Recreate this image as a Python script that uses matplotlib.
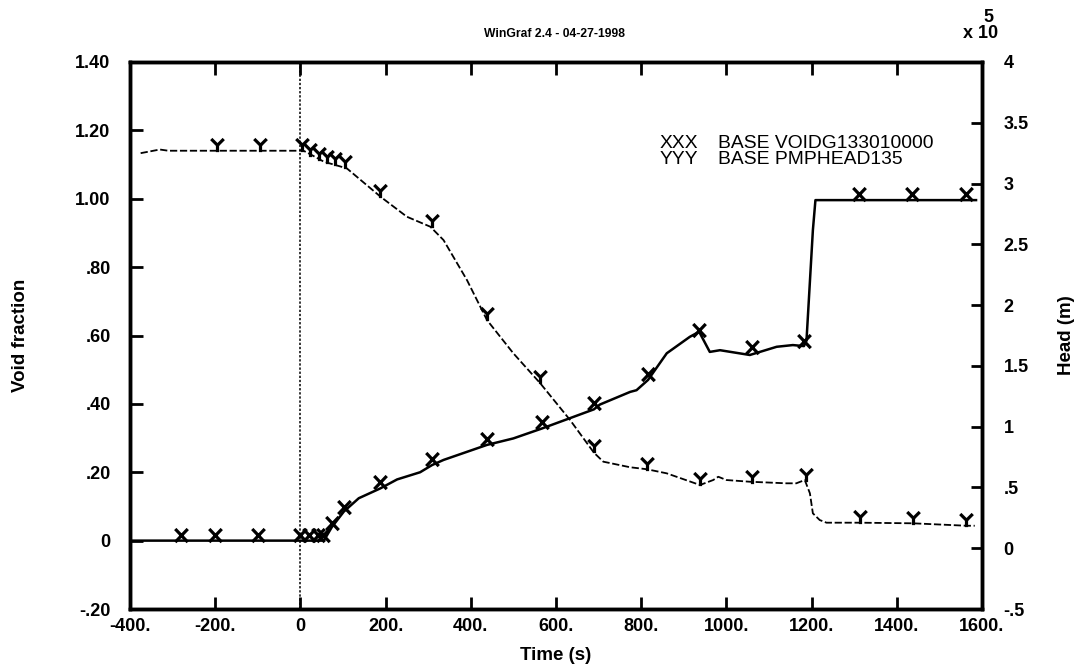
import numpy as np
import matplotlib
matplotlib.use("Agg")
import matplotlib.pyplot as plt
from matplotlib.path import Path

plt.rcParams['font.family'] = ['Liberation Sans', 'DejaVu Sans']

# ---------------- data ----------------
# Void fraction (left axis), series "XXX"
void_t = [-400, -280, -200, -100, 0, 21, 41, 55, 74, 102, 137, 188, 227, 281, 309,
          336, 438, 500, 567, 689, 703, 774, 789, 816, 860, 914, 936, 961, 985,
          1055, 1118, 1156, 1182, 1188, 1203, 1209, 1311, 1436, 1562, 1586]
void_v = [0, 0, 0, 0, 0, 0, 0, 0, 0.04, 0.085, 0.124, 0.153, 0.179, 0.200, 0.221,
          0.236, 0.280, 0.299, 0.328, 0.384, 0.398, 0.435, 0.44, 0.47, 0.548, 0.596,
          0.611, 0.552, 0.557, 0.543, 0.567, 0.572, 0.569, 0.585, 0.908, 0.996,
          0.996, 0.996, 0.996, 0.996]
void_mark_t = [-280, -200, -100, 0, 21, 41, 53, 74, 102, 187, 309, 437, 566, 689,
               816, 936, 1061, 1182, 1311, 1436, 1562]
void_mark_v = [0, 0, 0, 0, 0, 0, 0, 0.035, 0.08, 0.153, 0.221, 0.280, 0.328, 0.384,
               0.47, 0.60, 0.55, 0.565, 0.996, 0.996, 0.996]

# Pump head (right axis, units of 1e5 m), series "YYY"
head_t = [-375, -330, -310, 0, 4, 27, 55, 109, 188, 250, 305, 336, 391, 438, 500,
          563, 633, 689, 711, 774, 813, 860, 938, 969, 981, 1000, 1055, 1141, 1164,
          1184, 1196, 1203, 1219, 1235, 1313, 1438, 1563, 1583]
head_v = [3.25, 3.28, 3.27, 3.27, 3.276, 3.234, 3.18, 3.125, 2.892, 2.727, 2.645,
          2.535, 2.206, 1.877, 1.603, 1.357, 1.055, 0.786, 0.712, 0.666, 0.65, 0.616,
          0.52, 0.561, 0.588, 0.561, 0.547, 0.534, 0.534, 0.561, 0.452, 0.287, 0.232,
          0.21, 0.21, 0.205, 0.185, 0.185]
head_mark_t = [-195, -94, 4, 23, 43, 63, 82, 105, 187, 310, 437, 563, 689, 813, 938,
               1061, 1187, 1313, 1438, 1563]
head_mark_v = [3.27, 3.27, 3.27, 3.23, 3.19, 3.17, 3.15, 3.13, 2.89, 2.64, 1.88, 1.36,
               0.79, 0.64, 0.52, 0.54, 0.55, 0.205, 0.20, 0.18]

x_ticks = [-400, -200, 0, 200, 400, 600, 800, 1000, 1200, 1400, 1600]
x_labels = ['-400.', '-200.', '0', '200.', '400.', '600.', '800.', '1000.', '1200.',
            '1400.', '1600.']
yl_ticks = [-0.2, 0, 0.2, 0.4, 0.6, 0.8, 1.0, 1.2, 1.4]
yl_labels = ['-.20', '0', '.20', '.40', '.60', '.80', '1.00', '1.20', '1.40']
yr_ticks = [-0.5, 0, 0.5, 1, 1.5, 2, 2.5, 3, 3.5, 4]
yr_labels = ['-.5', '0', '.5', '1', '1.5', '2', '2.5', '3', '3.5', '4']

title = 'WinGraf 2.4 - 04-27-1998'
leg_codes = ['XXX', 'YYY']
leg_names = ['BASE VOIDG133010000', 'BASE PMPHEAD135']

# ---------------- figure ----------------
W, H = 1085, 672
fig = plt.figure(figsize=(W / 100, H / 100), dpi=100)
ax = fig.add_axes([130 / W, 1 - 609 / H, 852 / W, 547 / H])
ax2 = ax.twinx()

X_path = Path([(-0.5, -0.05), (0.5, 1.0), (-0.5, 1.0), (0.5, -0.05)],
              [Path.MOVETO, Path.LINETO, Path.MOVETO, Path.LINETO])
Y_path = Path([(0, -0.05), (0, 0.5), (-0.5, 1.0), (0, 0.5), (0.5, 1.0)],
              [Path.MOVETO, Path.LINETO, Path.LINETO, Path.MOVETO, Path.LINETO])

ax.axvline(0, color='black', lw=1.1, ls=(0, (1.5, 1.2)))
ax.plot(void_t, void_v, color='black', lw=1.8, solid_joinstyle='round')
ax.plot(void_mark_t, void_mark_v, ls='none', marker=X_path, ms=18, mew=2.3,
        mfc='none', mec='black')

ax2.plot(head_t, head_v, color='black', lw=1.3, ls=(0, (4, 1.5)))
ax2.plot(head_mark_t, head_mark_v, ls='none', marker=Y_path, ms=18, mew=2.3,
         mfc='none', mec='black')

ax.set_xlim(-400, 1600)
ax.set_ylim(-0.2, 1.4)
ax2.set_ylim(-0.5, 4)

tick_font = dict(fontsize=13, fontweight='bold')
ax.set_xticks(x_ticks, x_labels, **tick_font)
ax.set_yticks(yl_ticks, yl_labels, **tick_font)
ax2.set_yticks(yr_ticks, yr_labels, **tick_font)

ax.tick_params(axis='x', direction='in', length=9, width=2, top=True, pad=6.5)
ax.tick_params(axis='y', direction='in', length=9, width=2, right=False, pad=14)
ax2.tick_params(axis='y', direction='in', length=8, width=2, pad=15.5)
for a in (ax, ax2):
    for s in a.spines.values():
        s.set_linewidth(2.5)

ax.set_xlabel('Time (s)', fontsize=13.5, fontweight='bold', va='center')
ax.xaxis.set_label_coords(0.5, -(656 - 609) / 547)
ax.set_ylabel('Void fraction', fontsize=13.5, fontweight='bold', va='center')
ax.yaxis.set_label_coords(-(130 - 20.5) / 852, 0.5)
ax2.set_ylabel('Head (m)', fontsize=13.5, fontweight='bold', va='center', rotation=90)
ax2.yaxis.set_label_coords(1 + (1066.5 - 982) / 852, 0.5)

fig.text(554 / W, 1 - 34 / H, title, fontsize=8.7, fontweight='bold',
         ha='center', va='center')
fig.text(981 / W, 1 - 34 / H, 'x 10', fontsize=13, fontweight='bold',
         ha='center', va='center')
fig.text(988 / W, 1 - 17.5 / H, '5', fontsize=13, fontweight='bold',
         ha='center', va='center')

for i, (c, n) in enumerate(zip(leg_codes, leg_names)):
    yy = 1 - (143.5 + 16.5 * i) / H
    fig.text(660 / W, yy, c, fontsize=13.9, ha='left', va='center')
    fig.text(718 / W, yy, n, fontsize=13.9, ha='left', va='center')

fig.savefig('out.png', dpi=100)
